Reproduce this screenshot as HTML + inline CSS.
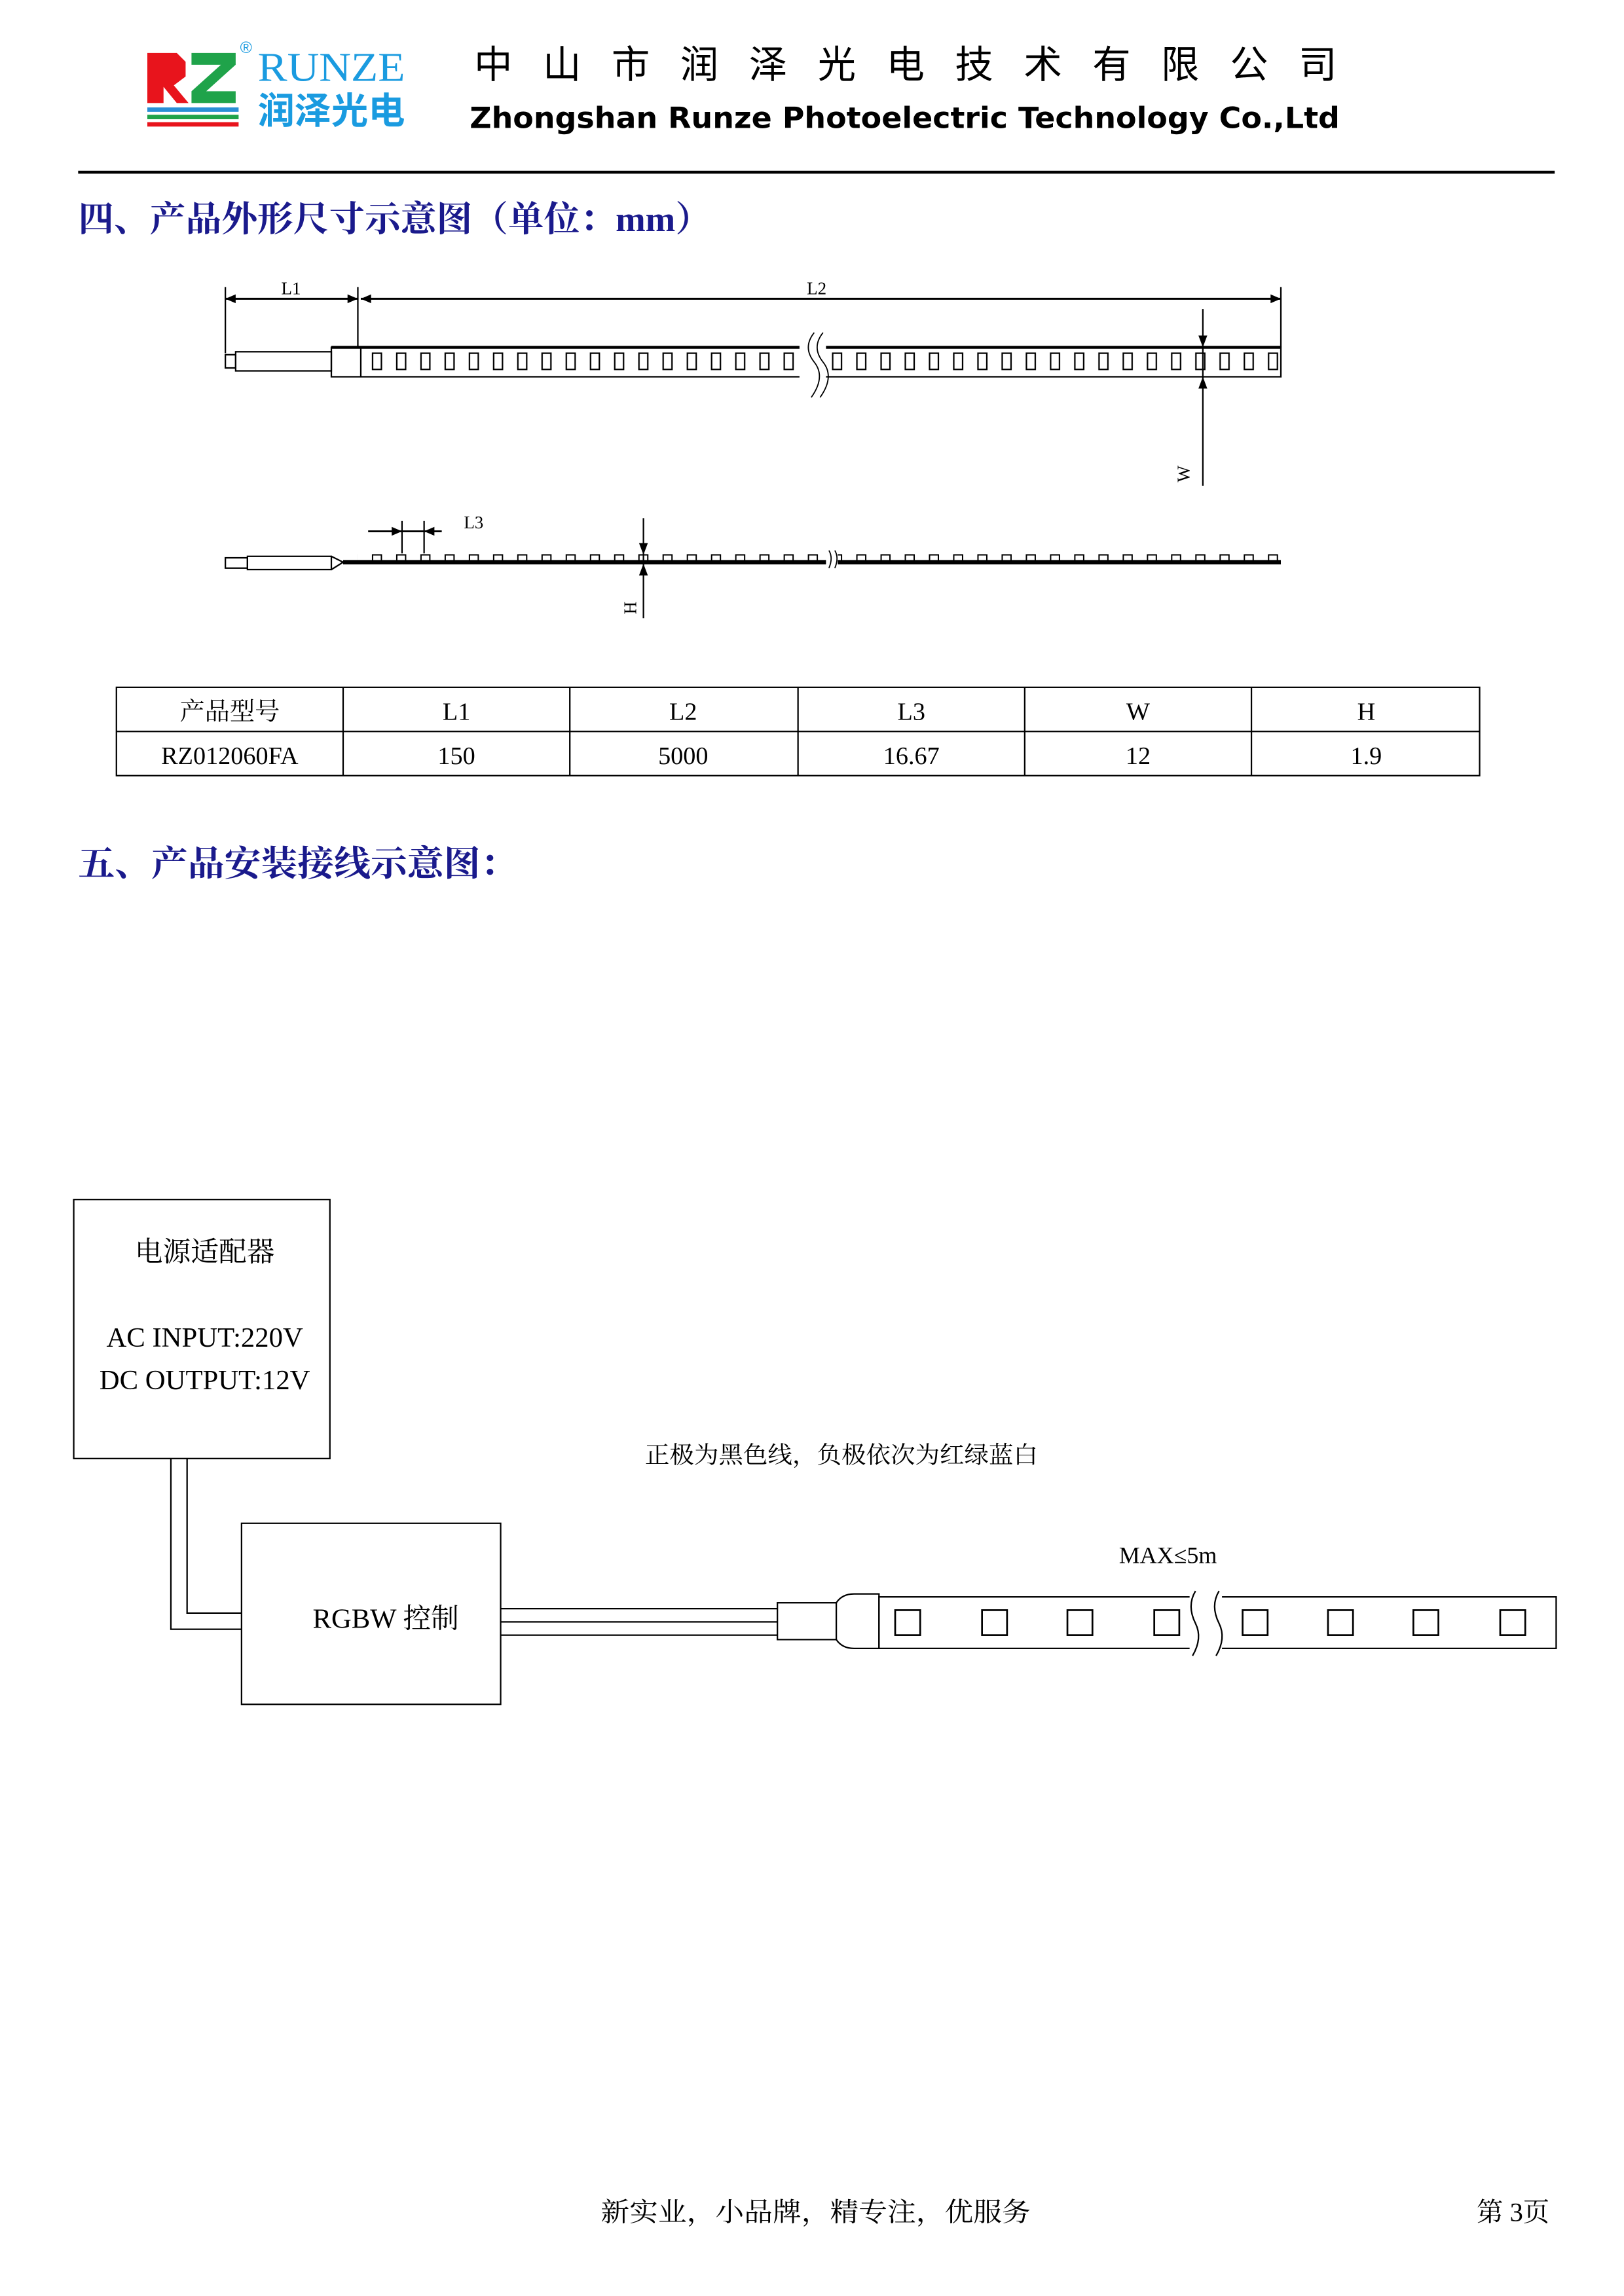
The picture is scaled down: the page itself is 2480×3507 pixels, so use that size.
<!DOCTYPE html>
<html><head><meta charset="utf-8"><style>
html,body{margin:0;padding:0;background:#fff}
svg{display:block}
.s{font-family:"Liberation Serif","Noto Serif CJK SC",serif}
.h{font-family:"Liberation Serif","Noto Serif CJK SC",serif;fill:#1a1a8c;font-weight:bold}
</style></head><body>
<svg width="2480" height="3507" viewBox="0 0 1103 1560" xmlns="http://www.w3.org/2000/svg">
<defs>
<pattern id="slot" x="249" y="0" width="16.45" height="1560" patternUnits="userSpaceOnUse">
<rect x="4" y="240" width="6" height="11" fill="none" stroke="#000" stroke-width="1"/>
</pattern>
<pattern id="bump" x="249" y="0" width="16.45" height="1560" patternUnits="userSpaceOnUse">
<rect x="4" y="377" width="6" height="5" fill="none" stroke="#000" stroke-width="0.9"/>
</pattern>
</defs>
<!-- logo -->
<g>
<path d="M100 36 h20 l6 6 v10 l-8 6 l10 12 h-8 l-9 -11 v11 h-11 z" fill="#e8141c"/>
<path d="M130 36 h30 v8 l-20 18 h20 v8 h-30 v-8 l20 -18 h-20 z" fill="#1fa34a"/>
<rect x="100" y="73" width="62" height="3" fill="#2a8fd6"/>
<rect x="100" y="78" width="62" height="3" fill="#1fa34a"/>
<rect x="100" y="83" width="62" height="3" fill="#e8141c"/>
<text x="163" y="36" font-size="11" fill="#1a9be0" font-family="Liberation Sans,sans-serif">®</text>
<text x="175" y="55" font-size="28" fill="#1a9be0" class="s" textLength="100" lengthAdjust="spacingAndGlyphs">RUNZE</text>
<text x="175" y="84" font-size="25" fill="#1a9be0" font-weight="bold" font-family="Liberation Sans,'Noto Sans CJK SC',sans-serif" textLength="100" lengthAdjust="spacingAndGlyphs">润泽光电</text>
</g>
<text x="322" y="53" font-size="26" font-family="'Noto Sans CJK SC',sans-serif" textLength="586" lengthAdjust="spacing">中山市润泽光电技术有限公司</text>
<text x="319" y="87" font-size="20" font-weight="bold" font-family="'DejaVu Sans',sans-serif" textLength="591" lengthAdjust="spacingAndGlyphs">Zhongshan Runze Photoelectric Technology Co.,Ltd</text>
<rect x="53" y="116" width="1003" height="2" fill="#000"/>
<text x="53" y="157" font-size="24" class="h" textLength="430" lengthAdjust="spacingAndGlyphs">四、产品外形尺寸示意图（单位：mm）</text>

<!-- diagram 1 -->
<g stroke="#000" fill="none" stroke-width="1">
<line x1="153" y1="195" x2="153" y2="240"/>
<line x1="243" y1="195" x2="243" y2="236"/>
<line x1="870" y1="195" x2="870" y2="236"/>
<line x1="153" y1="203" x2="243" y2="203" stroke-width="1.3"/>
<line x1="245" y1="203" x2="870" y2="203" stroke-width="1.3"/>
<rect x="160" y="239" width="65" height="13"/>
<rect x="153" y="241" width="7" height="9"/>
<rect x="225" y="236" width="645" height="20"/>
<line x1="225" y1="236" x2="870" y2="236" stroke-width="2"/>
<line x1="245" y1="236" x2="245" y2="256"/>
<line x1="817" y1="210" x2="817" y2="330"/>
<line x1="437" y1="352" x2="437" y2="420"/>
<line x1="250" y1="361" x2="300" y2="361" stroke-width="1.3"/>
<line x1="273" y1="354" x2="273" y2="376"/>
<line x1="288" y1="354" x2="288" y2="376"/>
<rect x="168" y="378" width="57" height="9"/>
<rect x="153" y="379" width="15" height="7"/>
<path d="M225 378 l8 4 l-8 5"/>
</g>
<rect x="249" y="236" width="620" height="20" fill="url(#slot)"/>
<rect x="243" y="370" width="627" height="12" fill="url(#bump)"/>
<line x1="233" y1="382" x2="870" y2="382" stroke="#000" stroke-width="3"/>
<g fill="#000">
<path d="M153 203 l7 -3 v6z"/><path d="M243 203 l-7 -3 v6z"/>
<path d="M245 203 l7 -3 v6z"/><path d="M870 203 l-7 -3 v6z"/>
<path d="M817 236 l-3 -8 h6z"/><path d="M817 256 l-3 8 h6z"/>
<path d="M273 361 l-7 -3 v6z"/><path d="M288 361 l7 -3 v6z"/>
<path d="M437 377 l-3 -8 h6z"/><path d="M437 383 l-3 8 h6z"/>
</g>
<rect x="543" y="225" width="18" height="45" fill="#fff"/>
<path d="M553 226 q-8 10 0 20 q8 10 -2 24 M559 226 q-8 10 0 20 q8 10 -2 24" stroke="#000" fill="none" stroke-width="0.8"/>
<rect x="561" y="372" width="8" height="14" fill="#fff"/>
<path d="M563 374 q3 5 0 12 M567 374 q3 5 0 12" stroke="#000" fill="none" stroke-width="0.8"/>
<g class="s" font-size="12">
<text x="191" y="200">L1</text><text x="548" y="200">L2</text><text x="315" y="359">L3</text>
<text transform="translate(808 322) rotate(-90)" text-anchor="middle">W</text>
<text transform="translate(432 413) rotate(-90)" text-anchor="middle">H</text>
</g>

<!-- table -->
<g stroke="#000" stroke-width="1" fill="none">
<rect x="79" y="467" width="926" height="60"/>
<line x1="79" y1="497" x2="1005" y2="497"/>
<line x1="233" y1="467" x2="233" y2="527"/><line x1="387" y1="467" x2="387" y2="527"/>
<line x1="542" y1="467" x2="542" y2="527"/><line x1="696" y1="467" x2="696" y2="527"/>
<line x1="850" y1="467" x2="850" y2="527"/>
</g>
<g class="s" font-size="17" text-anchor="middle">
<text x="156" y="489">产品型号</text><text x="310" y="489">L1</text><text x="464" y="489">L2</text>
<text x="619" y="489">L3</text><text x="773" y="489">W</text><text x="928" y="489">H</text>
<text x="156" y="519">RZ012060FA</text><text x="310" y="519">150</text><text x="464" y="519">5000</text>
<text x="619" y="519">16.67</text><text x="773" y="519">12</text><text x="928" y="519">1.9</text>
</g>

<text x="53" y="595" font-size="24" class="h" textLength="298" lengthAdjust="spacingAndGlyphs">五、产品安装接线示意图：</text>

<!-- wiring -->
<g stroke="#000" stroke-width="1" fill="none">
<rect x="50" y="815" width="174" height="176"/>
<rect x="164" y="1035" width="176" height="123"/>
<path d="M116 991 V1107 H164 M127 991 V1096 H164"/>
<path d="M340 1093 H528 M340 1102 H528 M340 1111 H528"/>
<rect x="528" y="1089" width="40" height="25"/>
<path d="M568 1089 q4 -6 12 -6 H597 V1120 H580 q-8 0 -12 -6"/>
<rect x="597" y="1085" width="460" height="35"/>
</g>
<rect x="808" y="1080" width="22" height="45" fill="#fff"/>
<path d="M812 1081 q-6 10 0 22 q5 10 -2 22 M828 1081 q-6 10 0 22 q5 10 -2 22" stroke="#000" fill="none" stroke-width="1"/>
<g stroke="#000" fill="none" stroke-width="1.2">
<rect x="608" y="1094" width="17" height="17"/><rect x="667" y="1094" width="17" height="17"/>
<rect x="725" y="1094" width="17" height="17"/><rect x="784" y="1094" width="17" height="17"/>
<rect x="844" y="1094" width="17" height="17"/><rect x="902" y="1094" width="17" height="17"/>
<rect x="960" y="1094" width="17" height="17"/><rect x="1019" y="1094" width="17" height="17"/>
</g>
<g class="s" font-size="19" text-anchor="middle">
<text x="139" y="857">电源适配器</text>
<text x="139" y="915">AC INPUT:220V</text>
<text x="139" y="944">DC OUTPUT:12V</text>
<text x="262" y="1106">RGBW 控制</text>
</g>
<text x="438" y="994" class="s" font-size="16" textLength="267" lengthAdjust="spacingAndGlyphs">正极为黑色线，负极依次为红绿蓝白</text>
<text x="760" y="1062" class="s" font-size="16">MAX≤5m</text>
<text x="408" y="1509" class="s" font-size="18" textLength="292" lengthAdjust="spacingAndGlyphs">新实业，小品牌，精专注，优服务</text>
<text x="1003" y="1509" class="s" font-size="18">第 3页</text>
</svg>
</body></html>
